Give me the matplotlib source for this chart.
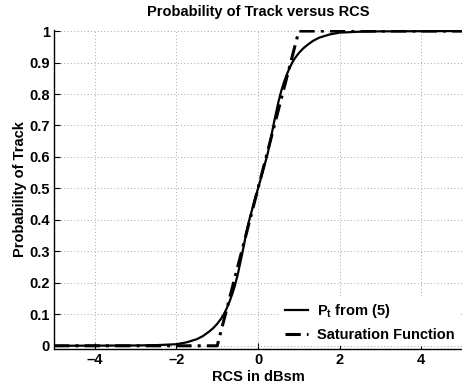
"""Probability of track versus RCS, redrawn from the reference figure."""
import matplotlib
matplotlib.use("Agg")
import matplotlib.pyplot as plt

plt.rcParams["font.family"] = ["Liberation Sans", "DejaVu Sans"]
plt.rcParams["font.weight"] = "bold"
plt.rcParams["mathtext.fontset"] = "custom"
plt.rcParams["mathtext.rm"] = "Liberation Sans:bold"
plt.rcParams["mathtext.bf"] = "Liberation Sans:bold"
plt.rcParams["mathtext.it"] = "Liberation Sans:bold"

# P_t curve, values
rcs_pt = [-5.0, -3.0, -2.5, -2.0, -1.75, -1.5, -1.35, -1.2, -1.1, -1.0, -0.9,
          -0.84, -0.77, -0.7, -0.63, -0.57, -0.5, -0.4, -0.3, -0.235, -0.12, 0.0,
          0.12, 0.235, 0.3, 0.4, 0.5, 0.57, 0.63, 0.7, 0.77, 0.84, 0.9,
          1.0, 1.1, 1.2, 1.35, 1.5, 1.75, 2.0, 2.5, 3.0, 5.0]
prob_pt = [0.0, 0.001, 0.002, 0.005, 0.011, 0.021, 0.031, 0.045, 0.056, 0.07, 0.087,
           0.1, 0.118, 0.14, 0.165, 0.19, 0.225, 0.285, 0.35, 0.39, 0.445, 0.5,
           0.555, 0.61, 0.65, 0.715, 0.775, 0.81, 0.835, 0.86, 0.882, 0.9, 0.913,
           0.93, 0.944, 0.955, 0.969, 0.979, 0.989, 0.995, 0.998, 0.999, 1.0]

# saturation function breakpoints
rcs_sat = [-5.0, -1.0, 1.0, 5.0]
prob_sat = [0.0, 0.0, 1.0, 1.0]

x_ticks = [-4, -2, 0, 2, 4]
y_ticks = [0, 0.1, 0.2, 0.3, 0.4, 0.5, 0.6, 0.7, 0.8, 0.9, 1]
y_labels = ["0", "0.1", "0.2", "0.3", "0.4", "0.5", "0.6", "0.7", "0.8", "0.9", "1"]

fig = plt.figure(figsize=(4.62, 3.86), dpi=100)
ax = fig.add_axes([0.117, 0.096, 0.883, 0.826])

ax.plot(rcs_pt, prob_pt, color="black", linewidth=1.6, label=r"$P_t$ from (5)")
ax.plot(rcs_sat, prob_sat, color="black", linewidth=2.2, linestyle=(0, (5, 2, 1, 2)),
        label="Saturation Function")

ax.set_xlim(-5, 5)
ax.set_ylim(-0.01, 1.003)
ax.set_xticks(x_ticks, [str(v).replace("-", "\u2013") for v in x_ticks])
ax.set_yticks(y_ticks, y_labels)
ax.tick_params(direction="in", length=4, width=0.8, labelsize=10.5, pad=3)
ax.grid(True, color="#888888", linestyle=(0, (1, 3)), linewidth=0.6)
ax.spines["top"].set_visible(False)
ax.spines["right"].set_visible(False)
for side in ("left", "bottom"):
    ax.spines[side].set_linewidth(1.0)

ax.set_xlabel("RCS in dBsm", fontsize=10.5, fontweight="bold", labelpad=2)
ax.set_ylabel("Probability of Track", fontsize=10.5, fontweight="bold", labelpad=1.5)
fig.text(258 / 462, 1 - 12 / 386, "Probability of Track versus RCS",
         fontsize=10.5, fontweight="bold", ha="center", va="center")

leg = ax.legend(loc="lower right", bbox_to_anchor=(1.0, 0.0), fontsize=10.5,
                frameon=True, framealpha=1.0, facecolor="white", edgecolor="none",
                handlelength=1.6, handletextpad=0.6, labelspacing=0.5,
                borderaxespad=0.2, borderpad=0.3, fancybox=False)

fig.savefig("out.png", dpi=100)
plt.close(fig)
